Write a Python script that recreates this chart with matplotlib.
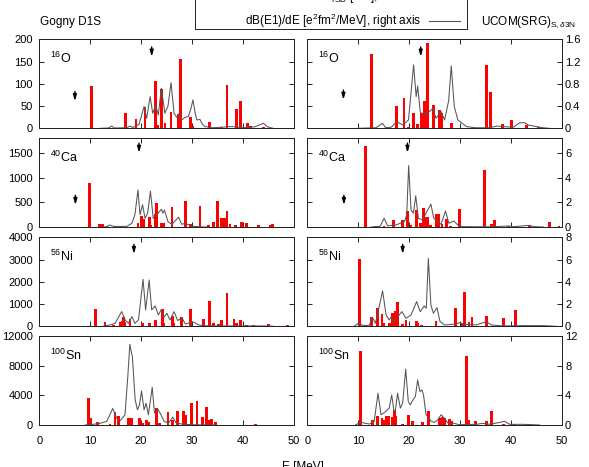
#!/usr/bin/env python3
"""Isoscalar dipole strength vs E1 strength function, Gogny D1S vs UCOM(SRG)."""

import matplotlib
matplotlib.use("Agg")
import matplotlib.pyplot as plt
from matplotlib.lines import Line2D
from matplotlib.patches import Rectangle

plt.rcParams["font.family"] = ["Liberation Sans", "DejaVu Sans"]
plt.rcParams["font.size"] = 8
plt.rcParams["mathtext.fontset"] = "custom"
plt.rcParams["mathtext.rm"] = "Liberation Sans"
plt.rcParams["mathtext.it"] = "Liberation Sans:italic"
plt.rcParams["mathtext.bf"] = "Liberation Sans:bold"

# ---------------------------------------------------------------- data
NUCLEI = [r"$^{16}$O", r"$^{40}$Ca", r"$^{56}$Ni", r"$^{100}$Sn"]
MODELS = ["Gogny D1S", r"UCOM(SRG)$_{\mathrm{S},\delta 3\mathrm{N}}$"]

LEFT_TICKS = [[0, 50, 100, 150, 200], [0, 500, 1000, 1500],
              [0, 1000, 2000, 3000, 4000], [0, 4000, 8000, 12000]]
LEFT_MAX = [200, 1800, 4000, 12000]
RIGHT_TICKS = [["0", "0.4", "0.8", "1.2", "1.6"], ["0", "2", "4", "6"],
               ["0", "2", "4", "6", "8"], ["0", "4", "8", "12"]]
RIGHT_TICK_VALUES = [[0, 0.4, 0.8, 1.2, 1.6], [0, 2, 4, 6],
                     [0, 2, 4, 6, 8], [0, 4, 8, 12]]
RIGHT_MAX = [1.6, 7.2, 8, 12]
X_TICKS = [0, 10, 20, 30, 40, 50]

# 16O
O16_G_BAR_E = [10.3, 16.9, 19.0, 20.8, 22.9, 23.2, 24.1, 24.7, 25.9, 27.4, 27.8,
               29.7, 30.2, 33.5, 35.8, 36.9, 38.7, 39.6, 40.9, 41.6, 44.1]
O16_G_BAR_B = [96, 34, 20, 47, 107, 7, 88, 13, 37, 32, 156,
               25, 5, 15, 3, 97, 43, 61, 11, 6, 3]
O16_G_LINE_E = [12.0, 13.6, 14.2, 14.8, 17.2, 17.8, 18.4, 19.6, 20.6, 21.1, 21.8,
                22.3, 22.9, 23.4, 24.0, 24.7, 25.3, 25.9, 26.5, 27.0, 27.4, 28.0,
                28.7, 29.3, 29.8, 30.2, 30.7, 31.0, 31.6, 32.0, 32.6, 34.0, 36.0,
                37.0, 38.0, 39.0, 41.0, 42.5, 43.5, 44.1, 44.8, 45.5, 46.0]
O16_G_LINE_S = [0.0, 0.005, 0.04, 0.005, 0.01, 0.04, 0.015, 0.07, 0.39, 0.18, 0.57,
                0.27, 0.41, 0.24, 0.72, 0.27, 0.40, 0.82, 0.27, 0.20, 0.26, 0.15,
                0.20, 0.21, 0.35, 0.51, 0.25, 0.15, 0.16, 0.08, 0.03, 0.01, 0.02,
                0.03, 0.03, 0.02, 0.01, 0.03, 0.07, 0.09, 0.03, 0.01, 0.0]
O16_U_BAR_E = [12.6, 17.6, 19.0, 19.8, 20.9, 21.6, 22.4, 23.0, 23.7, 24.8, 26.0,
               26.5, 28.3, 35.2, 36.0, 38.4, 40.1, 43.1, 45.4]
O16_U_BAR_B = [166, 50, 67, 4, 35, 10, 35, 61, 191, 52, 41,
               35, 13, 142, 81, 9, 19, 7, 4]
O16_U_LINE_E = [10.0, 13.5, 14.8, 15.4, 16.5, 17.6, 18.75, 19.9, 20.9, 21.4, 21.7,
                22.2, 22.7, 23.4, 24.0, 24.7, 25.3, 26.3, 27.0, 27.8, 28.3, 28.6,
                28.9, 29.6, 31.3, 33.2, 35.9, 37.2, 38.5, 40.5, 41.8, 42.8, 43.4,
                45.1, 46.4, 47.5]
O16_U_LINE_S = [0.0, 0.01, 0.09, 0.01, 0.02, 0.12, 0.06, 0.15, 1.14, 0.57, 0.76,
                0.30, 0.24, 0.27, 0.30, 0.36, 0.18, 0.30, 0.15, 0.50, 1.12, 0.75,
                0.39, 0.15, 0.03, 0.01, 0.01, 0.04, 0.03, 0.02, 0.10, 0.10, 0.06,
                0.03, 0.01, 0.0]

# 40Ca
CA40_G_BAR_E = [9.8, 11.9, 12.5, 13.3, 14.9, 19.4, 20.1, 20.5, 21.7, 21.9, 22.8,
                23.1, 24.1, 24.4, 26.1, 28.7, 29.8, 31.6, 33.3, 34.3, 35.0, 35.9,
                36.4, 36.9, 37.5, 38.5, 39.8, 40.7, 43.1, 45.4, 45.9]
CA40_G_BAR_B = [895, 60, 60, 20, 27, 74, 222, 155, 195, 40, 256,
                478, 87, 87, 397, 525, 54, 431, 40, 108, 525, 175,
                175, 330, 60, 40, 100, 87, 40, 40, 60]
CA40_G_LINE_E = [12.5, 13.2, 13.9, 14.6, 16.0, 17.2, 18.2, 18.8, 19.4, 19.8, 20.3,
                 20.8, 21.3, 21.85, 22.4, 23.1, 24.0, 24.3, 24.6, 25.3, 26.05,
                 27.4, 28.0, 28.7, 30.0, 31.6, 33.0]
CA40_G_LINE_S = [0.0, 0.02, 0.16, 0.05, 0.05, 0.05, 0.30, 1.0, 3.0, 1.0, 1.8,
                 0.7, 1.1, 2.9, 0.7, 0.98, 1.44, 1.11, 1.38, 0.43, 0.22,
                 0.79, 0.22, 0.30, 0.08, 0.01, 0.0]
CA40_U_BAR_E = [11.5, 13.4, 15.1, 17.0, 18.75, 19.7, 20.4, 21.4, 22.2, 22.9, 23.4,
                23.6, 24.2, 25.3, 25.8, 26.5, 27.3, 28.1, 29.9, 34.9, 36.2, 36.8,
                39.5, 43.75, 47.6, 49.5]
CA40_U_BAR_B = [1635, 13, 13, 141, 141, 323, 40, 343, 87, 377, 195,
                195, 40, 256, 256, 54, 155, 13, 357, 1144, 54, 141,
                27, 47, 94, 13]
CA40_U_LINE_E = [12.5, 14.3, 15.1, 15.8, 17.4, 19.1, 19.55, 19.93, 20.4, 20.86,
                 21.32, 21.84, 22.7, 23.5, 24.3, 24.87, 26.3, 27.17, 27.83, 28.8,
                 29.6, 30.6, 33.0, 36.0, 39.5, 40.5, 43.5, 44.5, 46.4]
CA40_U_LINE_S = [0.0, 0.05, 0.7, 0.1, 0.16, 0.43, 0.98, 4.97, 1.38, 1.11,
                 2.52, 0.7, 0.57, 1.25, 1.85, 0.7, 0.22, 1.3, 0.3, 0.49,
                 0.16, 0.03, 0.02, 0.02, 0.08, 0.02, 0.13, 0.03, 0.0]

# 56Ni
NI56_G_BAR_E = [11.0, 12.9, 14.6, 16.0, 16.3, 16.5, 16.7, 17.85, 20.3, 21.65, 22.8,
                24.3, 24.5, 26.25, 26.5, 28.0, 29.8, 32.3, 33.5, 34.25, 35.2, 35.8,
                36.9, 38.3, 38.85, 39.6, 40.8, 42.1, 45.1, 48.8]
NI56_G_BAR_B = [779, 195, 75, 195, 255, 404, 210, 315, 135, 135, 285,
                764, 165, 464, 165, 404, 779, 315, 1124, 135, 90, 285,
                1498, 330, 135, 285, 75, 45, 90, 60]
NI56_G_LINE_E = [12.5, 13.9, 14.9, 16.2, 16.9, 17.5, 18.2, 18.8, 19.5, 20.4, 20.9,
                 21.6, 22.1, 22.8, 23.4, 23.95, 24.5, 25.07, 25.7, 26.5, 27.2,
                 28.0, 28.7, 30.3, 31.3, 32.3, 34.3, 38.0, 44.5, 46.0]
NI56_G_LINE_S = [0.0, 0.12, 0.27, 1.32, 0.57, 0.27, 0.87, 0.27, 0.57, 4.22, 1.47,
                 4.16, 1.47, 1.83, 1.02, 1.47, 0.81, 1.17, 0.57, 1.32, 0.51,
                 0.81, 0.21, 0.39, 0.12, 0.06, 0.03, 0.03, 0.03, 0.0]
NI56_U_BAR_E = [10.2, 12.7, 13.75, 14.7, 15.0, 16.1, 16.8, 17.3, 17.8, 18.75, 19.4,
                21.4, 21.7, 22.4, 25.3, 29.1, 30.5, 30.9, 31.8, 32.4, 35.2, 38.5,
                41.0, 42.8, 45.7]
NI56_U_BAR_B = [3011, 404, 839, 554, 165, 135, 584, 689, 1108, 90, 285,
                255, 165, 75, 240, 839, 165, 1543, 210, 404, 464, 360,
                734, 60, 30]
NI56_U_LINE_E = [9.2, 10.2, 10.9, 12.2, 12.8, 13.4, 14.0, 14.8, 15.5, 16.1, 16.45,
                 17.0, 17.8, 18.6, 19.4, 20.4, 21.5, 22.2, 23.0, 23.4, 23.8, 24.3,
                 24.8, 25.5, 26.1, 27.0, 29.3, 29.9, 30.9, 33.2, 35.2, 36.2, 38.5,
                 42.4, 46.4, 49.0]
NI56_U_LINE_S = [0.0, 0.33, 0.06, 0.09, 0.81, 0.27, 1.47, 3.18, 1.02, 0.57, 0.81,
                 0.42, 0.87, 1.32, 0.72, 1.02, 2.22, 1.32, 1.83, 1.62, 6.11, 1.92,
                 1.17, 1.68, 0.42, 0.12, 0.21, 0.33, 0.18, 0.12, 0.42, 0.12, 0.03,
                 0.06, 0.06, 0.0]

# 100Sn
SN100_G_BAR_E = [9.65, 10.1, 11.4, 13.9, 14.9, 15.55, 17.5, 18.2, 19.7, 20.3, 21.0,
                 21.5, 23.0, 23.6, 25.3, 26.25, 27.2, 28.35, 28.7, 30.0, 31.0,
                 32.15, 32.95, 33.3, 33.9, 34.6, 36.9, 38.2, 39.5, 42.45]
SN100_G_BAR_B = [3613, 981, 446, 134, 1695, 1249, 937, 981, 937, 268, 714,
                 401, 2230, 223, 1784, 624, 1829, 1829, 1338, 2944, 3256,
                 1070, 2408, 624, 803, 401, 45, 45, 45, 90]
SN100_G_LINE_E = [9.0, 10.6, 11.9, 13.25, 14.45, 15.2, 15.9, 16.85, 17.4, 17.8,
                  18.05, 18.3, 18.85, 19.3, 19.7, 20.1, 20.6, 21.0, 21.45, 22.2,
                  22.65, 22.95, 23.25, 23.75, 24.55, 25.4, 26.25, 26.9, 28.0,
                  29.7, 34.3]
SN100_G_LINE_S = [0.0, 0.09, 0.22, 0.49, 2.23, 0.94, 0.58, 1.38, 6.51, 10.88,
                  9.99, 9.19, 3.39, 2.05, 2.72, 4.59, 2.05, 2.94, 1.38, 5.08,
                  1.61, 1.83, 2.19, 1.61, 0.49, 0.27, 1.07, 0.27, 0.13,
                  0.04, 0.0]
SN100_U_BAR_E = [10.5, 12.8, 13.8, 14.7, 15.1, 15.5, 15.9, 16.8, 17.1, 17.4, 18.75,
                 19.9, 20.7, 22.7, 23.9, 26.0, 26.5, 27.0, 27.95, 28.35, 31.25,
                 31.8, 33.1, 35.2, 36.2, 38.5, 40.8, 43.0]
SN100_U_BAR_B = [9990, 714, 1249, 937, 624, 1249, 1249, 1070, 2052, 1249, 178,
                 1338, 580, 446, 1918, 937, 1070, 937, 803, 580, 9277,
                 624, 580, 490, 1918, 178, 90, 134]
SN100_U_LINE_E = [9.5, 10.5, 12.2, 13.15, 13.9, 14.5, 15.45, 16.1, 16.6, 17.0,
                  17.3, 17.75, 18.3, 18.75, 19.35, 19.85, 20.25, 20.7, 21.25,
                  21.7, 22.15, 22.55, 22.85, 23.35, 23.9, 24.35, 25.0, 25.65,
                  26.3, 26.95, 27.6, 28.6, 29.9, 33.2, 34.5, 35.9, 38.8, 39.8,
                  42.4, 44.4, 45.7]
SN100_U_LINE_S = [0.04, 0.36, 0.13, 0.49, 4.28, 1.38, 1.83, 2.27, 4.06, 2.05,
                  1.83, 4.28, 2.27, 2.94, 7.54, 3.17, 2.72, 3.30, 3.84,
                  6.07, 4.50, 4.73, 4.06, 1.38, 0.94, 0.49, 0.36, 0.71,
                  1.38, 0.94, 0.27, 0.27, 0.04, 0.09, 0.22, 0.09, 0.49, 0.09,
                  0.09, 0.04, 0.0]

# threshold arrows: energy and tip height (left-axis units)
O16_G_ARROW_E, O16_G_ARROW_B = [7.0, 22.1], [61, 161]
O16_U_ARROW_E, O16_U_ARROW_B = [7.1, 22.3], [64, 161]
CA40_G_ARROW_E, CA40_G_ARROW_B = [7.1, 19.6], [445, 1500]
CA40_U_ARROW_E, CA40_U_ARROW_B = [7.2, 19.7], [445, 1500]
NI56_G_ARROW_E, NI56_G_ARROW_B = [18.6], [3250]
NI56_U_ARROW_E, NI56_U_ARROW_B = [18.75], [3250]
SN100_G_ARROW_E, SN100_G_ARROW_B = [], []
SN100_U_ARROW_E, SN100_U_ARROW_B = [], []

PANELS = [
    [(O16_G_BAR_E, O16_G_BAR_B, O16_G_LINE_E, O16_G_LINE_S, O16_G_ARROW_E, O16_G_ARROW_B),
     (O16_U_BAR_E, O16_U_BAR_B, O16_U_LINE_E, O16_U_LINE_S, O16_U_ARROW_E, O16_U_ARROW_B)],
    [(CA40_G_BAR_E, CA40_G_BAR_B, CA40_G_LINE_E, CA40_G_LINE_S, CA40_G_ARROW_E, CA40_G_ARROW_B),
     (CA40_U_BAR_E, CA40_U_BAR_B, CA40_U_LINE_E, CA40_U_LINE_S, CA40_U_ARROW_E, CA40_U_ARROW_B)],
    [(NI56_G_BAR_E, NI56_G_BAR_B, NI56_G_LINE_E, NI56_G_LINE_S, NI56_G_ARROW_E, NI56_G_ARROW_B),
     (NI56_U_BAR_E, NI56_U_BAR_B, NI56_U_LINE_E, NI56_U_LINE_S, NI56_U_ARROW_E, NI56_U_ARROW_B)],
    [(SN100_G_BAR_E, SN100_G_BAR_B, SN100_G_LINE_E, SN100_G_LINE_S, SN100_G_ARROW_E, SN100_G_ARROW_B),
     (SN100_U_BAR_E, SN100_U_BAR_B, SN100_U_LINE_E, SN100_U_LINE_S, SN100_U_ARROW_E, SN100_U_ARROW_B)],
]

# ---------------------------------------------------------------- layout
W, H = 589, 467
COL_LEFT = [39.3, 307.3]
COL_WIDTH = 254.3
ROW_TOP = [39.3, 138.0, 237.3, 336.0]
ROW_HEIGHT = 89.0
BAR_COLOR = "#ff0000"
LINE_COLOR = "#555555"

fig = plt.figure(figsize=(W / 100, H / 100), dpi=100)

for r in range(4):
    for c in range(2):
        bar_e, bar_b, line_e, line_s, arr_e, arr_b = PANELS[r][c]
        rect = (COL_LEFT[c] / W, 1 - (ROW_TOP[r] + ROW_HEIGHT) / H,
                COL_WIDTH / W, ROW_HEIGHT / H)
        ax = fig.add_axes(rect)
        ax2 = ax.twinx()

        ax.bar(bar_e, bar_b, width=0.55, color=BAR_COLOR, linewidth=0, zorder=2)
        ax2.plot(line_e, line_s, color=LINE_COLOR, linewidth=0.75, zorder=3)

        for e, b in zip(arr_e, arr_b):
            ax.annotate("", xy=(e, b), xytext=(0, 7), textcoords="offset points",
                        arrowprops=dict(arrowstyle="-|>,head_length=0.45,head_width=0.13",
                                        color="black", lw=1.0, shrinkA=0, shrinkB=0))

        ax.set_xlim(0, 50)
        ax.set_ylim(0, LEFT_MAX[r])
        ax2.set_ylim(0, RIGHT_MAX[r])
        ax.set_xticks(X_TICKS)
        ax.set_yticks(LEFT_TICKS[r])
        ax2.set_yticks(RIGHT_TICK_VALUES[r])
        ax2.set_yticklabels(RIGHT_TICKS[r])

        bottom = r == 3
        ax.tick_params(axis="x", direction="in", length=3.5, width=0.6, top=True,
                       labelbottom=bottom, pad=8, labelsize=8)
        ax.tick_params(axis="y", direction="in", length=3.5, width=0.6,
                       left=True, right=False, labelleft=(c == 0), pad=4.5, labelsize=8)
        ax2.tick_params(axis="y", direction="in", length=3.5, width=0.6,
                        right=True, labelright=(c == 1), pad=2.5, labelsize=8)
        for a in (ax, ax2):
            for s in a.spines.values():
                s.set_linewidth(0.7)
                s.set_color("#222222")

        ax.text(0.042, 0.78, NUCLEI[r], transform=ax.transAxes, fontsize=9,
                ha="left", va="center")

fig.text(40 / W, 1 - 22 / H, MODELS[0], fontsize=8.5, ha="left", va="center")
fig.text(481 / W, 1 - 22 / H, MODELS[1], fontsize=8.5, ha="left", va="center")
fig.text(0.515, 1 - 461 / H, "E [MeV]", fontsize=8.5, ha="center", va="top")

# legend box (gnuplot style, partly above the page)
leg_left, leg_right, leg_bottom = 195 / W, 466.7 / W, 1 - 29.3 / H
fig.patches.append(Rectangle((leg_left, leg_bottom), leg_right - leg_left, 0.2,
                             transform=fig.transFigure, fill=False,
                             edgecolor="#222222", linewidth=0.7))
legend_rows = [
    (r"B$_{\mathrm{ISD}}$ [fm$^6$], left axis", BAR_COLOR, -3.0),
    (r"dB(E1)/dE [e$^2$fm$^2$/MeV], right axis", LINE_COLOR, 20.5),
]
for label, color, ypx in legend_rows:
    fig.text(421.7 / W, 1 - ypx / H, label, fontsize=8.5, ha="right", va="center")
    fig.lines.append(Line2D([429 / W, 460 / W], [1 - ypx / H, 1 - ypx / H],
                            transform=fig.transFigure, color=color, linewidth=0.8))

fig.savefig("out.png", dpi=100)
